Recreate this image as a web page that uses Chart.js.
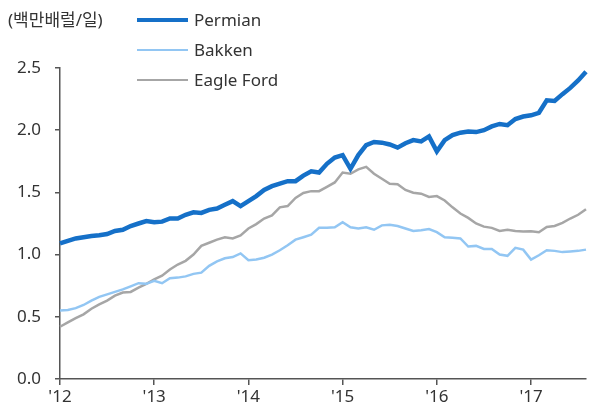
<!DOCTYPE html>
<html>
<head>
<meta charset="utf-8">
<script src="https://cdn.jsdelivr.net/npm/chart.js@4.4.0/dist/chart.umd.min.js"></script>
<style>
  body { margin: 0; background: #fff; }
  #wrap { position: relative; width: 596px; height: 409px; font-family: "Noto Sans", "Noto Sans CJK KR", sans-serif; color: #333; }
  #unit { position: absolute; left: 8px; top: 8px; font-size: 17px; line-height: 24px; }
  .leg { position: absolute; left: 137px; height: 24px; font-size: 17px; line-height: 24px; }
  .leg span.sw { position: absolute; left: 0; width: 51px; top: 50%; }
  .leg span.tx { position: absolute; left: 57px; white-space: nowrap; }
</style>
</head>
<body>
<div id="wrap">
  <canvas id="chart" width="596" height="409"></canvas>
  <div id="unit">(백만배럴/일)</div>
  <div id="legend"></div>
</div>
<script>
// 월별 데이터: 2012년 1월 ~ 2017년 8월
const months = [];
for (let y = 2012; y <= 2017; y++) {
    for (let m = 1; m <= 12; m++) {
        if (y === 2017 && m > 8) break;
        months.push(y + '-' + String(m).padStart(2, '0'));
    }
}

const permian = [
    1.09, 1.11, 1.13, 1.14, 1.15, 1.155, 1.165, 1.19, 1.20, 1.23, 1.25, 1.27,
    1.26, 1.265, 1.29, 1.29, 1.32, 1.34, 1.335, 1.36, 1.37, 1.40, 1.43, 1.39,
    1.43, 1.47, 1.52, 1.55, 1.57, 1.59, 1.59, 1.635, 1.67, 1.66, 1.73, 1.78,
    1.80, 1.69, 1.80, 1.88, 1.905, 1.90, 1.885, 1.86, 1.895, 1.92, 1.91, 1.95,
    1.83, 1.92, 1.96, 1.98, 1.99, 1.985, 2.00, 2.03, 2.05, 2.04, 2.09, 2.11,
    2.12, 2.14, 2.24, 2.235, 2.29, 2.34, 2.40, 2.47
];
const bakken = [
    0.55, 0.555, 0.57, 0.595, 0.63, 0.66, 0.68, 0.70, 0.72, 0.745, 0.77, 0.765,
    0.79, 0.77, 0.81, 0.815, 0.825, 0.845, 0.855, 0.91, 0.945, 0.97, 0.98, 1.01,
    0.955, 0.96, 0.975, 1.00, 1.035, 1.075, 1.12, 1.14, 1.16, 1.215, 1.215, 1.22,
    1.26, 1.22, 1.21, 1.22, 1.20, 1.235, 1.24, 1.23, 1.21, 1.19, 1.195, 1.205,
    1.18, 1.14, 1.135, 1.13, 1.065, 1.07, 1.045, 1.045, 1.00, 0.99, 1.055, 1.04,
    0.96, 0.995, 1.035, 1.03, 1.02, 1.025, 1.03, 1.04
];
const eagleFord = [
    0.42, 0.455, 0.49, 0.52, 0.565, 0.60, 0.63, 0.67, 0.695, 0.70, 0.735, 0.765,
    0.80, 0.83, 0.88, 0.92, 0.95, 1.00, 1.07, 1.095, 1.12, 1.14, 1.13, 1.155,
    1.21, 1.245, 1.29, 1.315, 1.38, 1.39, 1.455, 1.495, 1.51, 1.51, 1.545, 1.58,
    1.66, 1.65, 1.685, 1.705, 1.65, 1.61, 1.57, 1.565, 1.52, 1.497, 1.49, 1.463,
    1.47, 1.435, 1.38, 1.33, 1.295, 1.25, 1.225, 1.215, 1.19, 1.20, 1.19, 1.185,
    1.188, 1.18, 1.222, 1.23, 1.255, 1.29, 1.32, 1.365
];

const xTicks = [0, 12, 24, 36, 48, 60];          // 각 연도 1월 위치
const xTickLabels = ["'12", "'13", "'14", "'15", "'16", "'17"];
const yTicks = [0, 0.5, 1.0, 1.5, 2.0, 2.5];

const series = [
    { label: 'Permian', data: permian, color: '#1570c8', width: 4.5 },
    { label: 'Bakken', data: bakken, color: '#92c6f3', width: 2.5 },
    { label: 'Eagle Ford', data: eagleFord, color: '#a6a6a6', width: 2.5 }
];

// 범례 (HTML)
const legendBox = document.getElementById('legend');
const legendTops = [8, 38, 68];
series.forEach((s, i) => {
    const row = document.createElement('div');
    row.className = 'leg';
    row.style.top = legendTops[i] + 'px';
    row.innerHTML = '<span class="sw" style="border-top:' + s.width + 'px solid ' + s.color +
        ';margin-top:-' + (s.width / 2) + 'px"></span><span class="tx">' + s.label + '</span>';
    legendBox.appendChild(row);
});

const axisColor = '#555';
const tickFont = { family: '"Noto Sans", sans-serif', size: 17 };

new Chart(document.getElementById('chart').getContext('2d'), {
    type: 'line',
    data: {
        datasets: series.map(s => ({
            label: s.label,
            data: s.data.map((v, i) => ({ x: i, y: v })),
            borderColor: s.color,
            borderWidth: s.width,
            pointRadius: 0,
            tension: 0,
            fill: false,
            clip: false
        }))
    },
    options: {
        responsive: false,
        animation: false,
        devicePixelRatio: 1,
        layout: { padding: { left: 0, top: 68, right: 10, bottom: 0 } },
        plugins: { legend: { display: false }, tooltip: { enabled: false } },
        scales: {
            x: {
                type: 'linear',
                min: 0,
                max: months.length - 1,
                afterBuildTicks: (scale) => { scale.ticks = xTicks.map(v => ({ value: v })); },
                afterFit: (scale) => { scale.height = 30; },
                border: { display: true, color: axisColor, width: 1.5 },
                grid: { display: true, drawOnChartArea: false, drawTicks: true, tickLength: 6, color: axisColor, lineWidth: 1.5 },
                ticks: {
                    padding: 2,
                    color: '#333',
                    font: tickFont,
                    maxRotation: 0,
                    autoSkip: false,
                    callback: (v) => xTickLabels[xTicks.indexOf(v)]
                }
            },
            y: {
                min: 0,
                max: 2.5,
                afterBuildTicks: (scale) => { scale.ticks = yTicks.map(v => ({ value: v })); },
                afterFit: (scale) => { scale.width = 60; },
                border: { display: true, color: axisColor, width: 1.5 },
                grid: { display: true, drawOnChartArea: false, drawTicks: true, tickLength: 5, color: axisColor, lineWidth: 1.5 },
                ticks: {
                    padding: 14,
                    color: '#333',
                    font: tickFont,
                    callback: (v) => v.toFixed(1)
                }
            }
        }
    }
});
</script>
</body>
</html>
